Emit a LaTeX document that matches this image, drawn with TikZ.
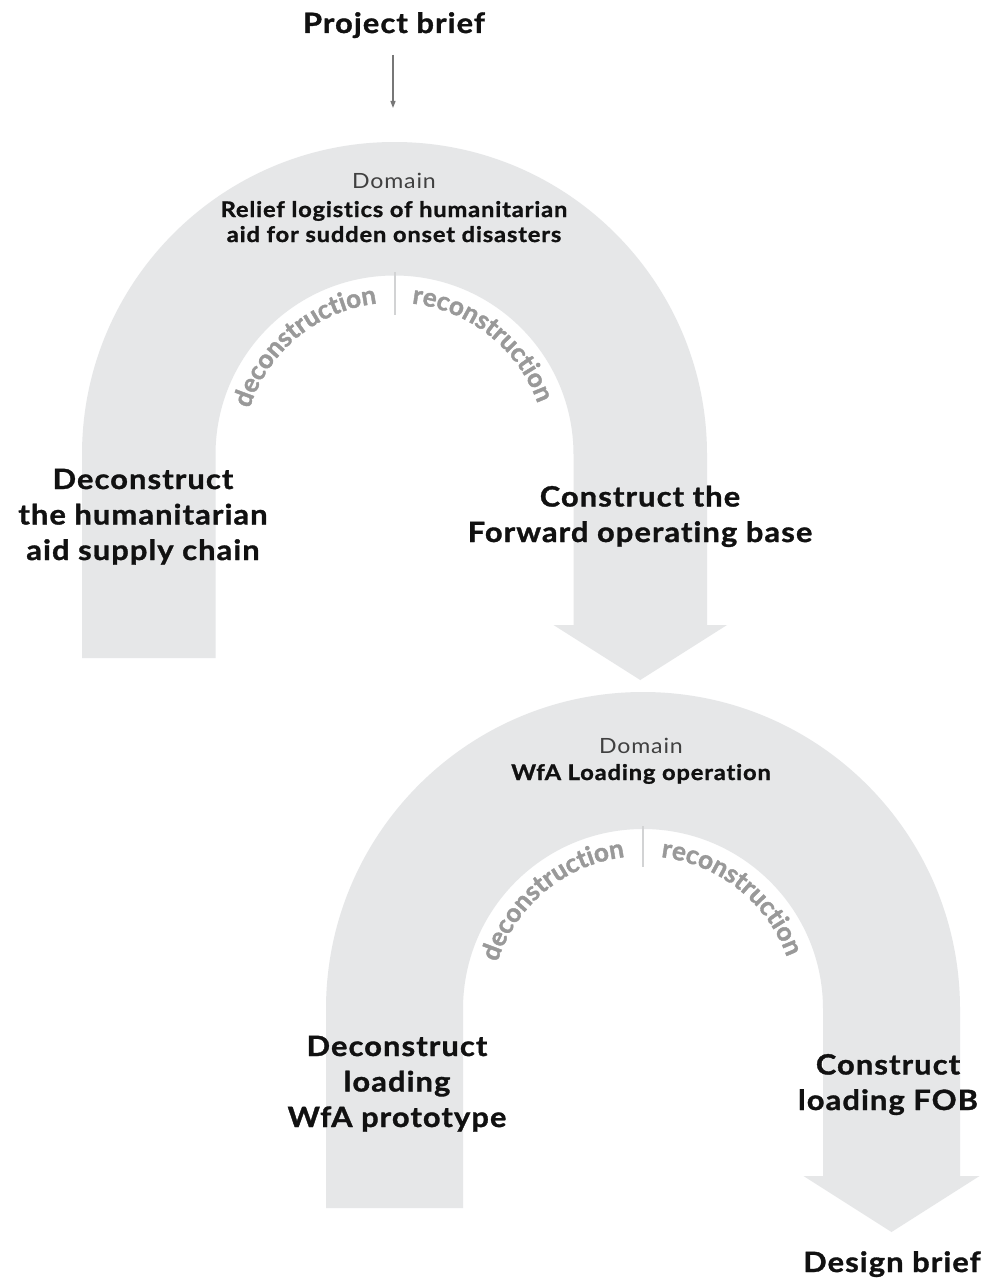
\documentclass[tikz,border=0pt]{standalone}
\usepackage{fontspec}
\setmainfont{Lato}[FakeStretch=1.1, LetterSpace=4, Ligatures=NoCommon, BoldFeatures={FakeBold=1.2}]
\newfontfamily\arclabelfont{Lato}[Ligatures=NoCommon, BoldFeatures={FakeBold=1.5}]
\usetikzlibrary{decorations.text,arrows.meta}
\definecolor{archgray}{HTML}{E6E7E8}
\definecolor{curvegray}{HTML}{999999}
\definecolor{domaingray}{HTML}{404040}
\definecolor{labelblack}{HTML}{111111}
\definecolor{dividergray}{HTML}{D2D3D4}
\definecolor{arrowgray}{HTML}{777777}
\begin{document}
\begin{tikzpicture}[x=1pt,y=1pt,
  arch/.style={fill=archgray, draw=none},
  bigtext/.style={font=\fontsize{28}{35.5}\selectfont\bfseries, align=center, inner sep=0pt, text=labelblack},
  domaintext/.style={font=\fontsize{21}{24}\selectfont, text=domaingray, inner sep=0pt},
  subtext/.style={font=\fontsize{21.5}{25}\selectfont\bfseries, align=center, inner sep=0pt, text=labelblack},
  divider/.style={draw=dividergray, line width=2pt},
  curvetext/.style={decorate, decoration={text along path, text align=center, text color=curvegray,
     text={|\arclabelfont\fontsize{26}{26}\selectfont\bfseries|#1}}},
  briefarrow/.style={draw=arrowgray, line width=1.2pt, -{Triangle[length=7pt,width=5pt]}}]
\useasboundingbox (0,0) rectangle (980,-1279);
\fill[white] (0,0) rectangle (980,-1279);

% arch 1
\fill[arch] (82,-658) -- (82,-454.5) arc[start angle=180,end angle=0,radius=312.5]
  -- (707,-625) -- (727,-625) -- (640.25,-680) -- (553.5,-625) -- (573.5,-625)
  -- (573.5,-454.5) arc[start angle=0,end angle=180,radius=179] -- (215.5,-658) -- cycle;
\draw[divider] (394.5,-272) -- (394.5,-315);
\path[curvetext=deconstruction] (394.5,-454.5) ++(163:152) arc[start angle=163,end angle=96,radius=152];
\path[curvetext=reconstruction] (394.5,-454.5) ++(85:152) arc[start angle=85,end angle=18,radius=152];

% arch 2
\fill[arch] (326,-1208) -- (326,-1009) arc[start angle=180,end angle=0,radius=317]
  -- (960,-1176) -- (979.5,-1176) -- (891.5,-1232) -- (803.5,-1176) -- (823,-1176)
  -- (823,-1009) arc[start angle=0,end angle=180,radius=180] -- (463,-1208) -- cycle;
\draw[divider] (643,-826) -- (643,-867);
\path[curvetext=deconstruction] (643,-1009) ++(163:153) arc[start angle=163,end angle=96,radius=153];
\path[curvetext=reconstruction] (643,-1009) ++(85:153) arc[start angle=85,end angle=18,radius=153];

% texts (anchor=base of a multi-line node = baseline of its last line)
\node[bigtext, anchor=base] (project) at (394,-33) {Project brief};
\coordinate (arrowstart) at (393,-55);
\coordinate (arrowend) at (393,-108);
\draw[briefarrow] (arrowstart) -- (arrowend);

\node[domaintext, anchor=base] (domain1) at (394,-188) {Domain};
\node[subtext, anchor=base] (relief) at (394,-242) {Relief logistics of humanitarian\\aid for sudden onset disasters};
\node[bigtext, anchor=base] (decon1) at (143,-560) {Deconstruct\\the humanitarian\\aid supply chain};
\node[bigtext, anchor=base] (con1) at (640,-542) {Construct the\\Forward operating base};

\node[domaintext, anchor=base] (domain2) at (641,-753) {Domain};
\node[subtext, anchor=base] (wfa) at (641,-780) {WfA Loading operation};
\node[bigtext, anchor=base] (decon2) at (397,-1127) {Deconstruct\\loading\\WfA prototype};
\node[bigtext, anchor=base] (con2) at (888,-1110) {Construct\\loading FOB};
\node[bigtext, anchor=base] (design) at (892,-1272) {Design brief};
\end{tikzpicture}
\end{document}
